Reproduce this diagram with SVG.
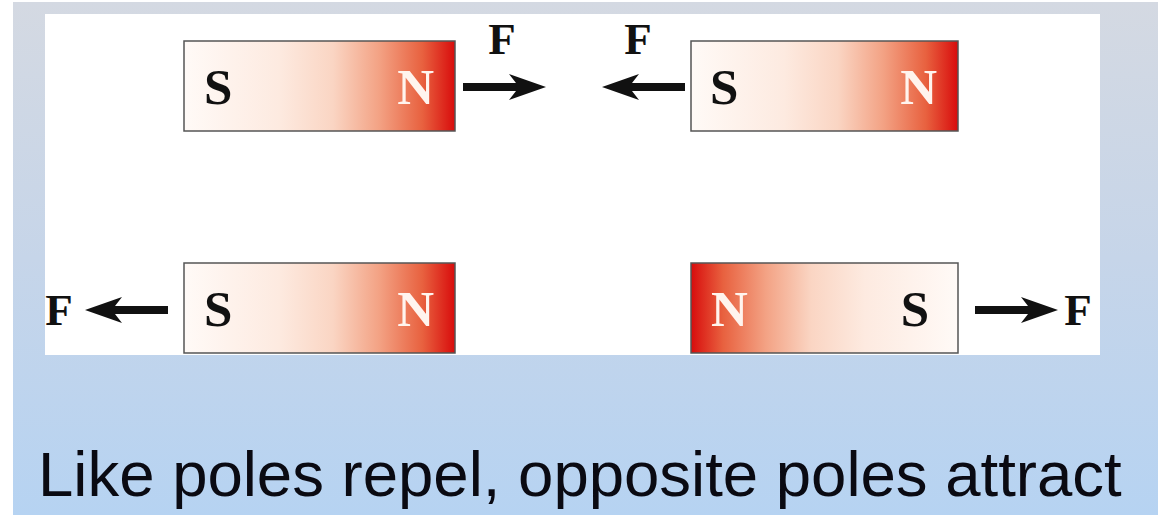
<svg xmlns="http://www.w3.org/2000/svg" xmlns:xlink="http://www.w3.org/1999/xlink" width="1158" height="515" viewBox="0 0 1158 515">
  <defs>
    <linearGradient id="bg" x1="0" y1="0" x2="0" y2="1">
      <stop offset="0" stop-color="#d4d9e2"/>
      <stop offset="0.5" stop-color="#c6d5e9"/>
      <stop offset="1" stop-color="#b6d3f2"/>
    </linearGradient>
    <linearGradient id="magR" x1="0" y1="0" x2="1" y2="0">
      <stop offset="0" stop-color="#fffaf7"/>
      <stop offset="0.35" stop-color="#fdeae0"/>
      <stop offset="0.55" stop-color="#fad5c3"/>
      <stop offset="0.72" stop-color="#f3a284"/>
      <stop offset="0.88" stop-color="#e8613f"/>
      <stop offset="1" stop-color="#d80c0c"/>
    </linearGradient>
    <linearGradient id="magL" x1="1" y1="0" x2="0" y2="0">
      <stop offset="0" stop-color="#fffaf7"/>
      <stop offset="0.35" stop-color="#fdeae0"/>
      <stop offset="0.55" stop-color="#fad5c3"/>
      <stop offset="0.72" stop-color="#f3a284"/>
      <stop offset="0.88" stop-color="#e8613f"/>
      <stop offset="1" stop-color="#d80c0c"/>
    </linearGradient>
    <path id="arrow" d="M0,0 L-37,-13 L-30,-4 L-83,-4 L-83,4 L-30,4 L-37,13 Z"/>
  </defs>
  <style>
    .mag { stroke: #555555; stroke-width: 1.5; }
    .pole { font-family: "Liberation Serif", "Times New Roman", serif; font-weight: bold; font-size: 51px; }
    .s { fill: #111111; }
    .n { fill: #fff4ee; }
    .f { font-family: "Liberation Serif", "Times New Roman", serif; font-weight: bold; font-size: 45px; fill: #111111; }
    .arr { fill: #111111; }
    .cap { font-family: "Liberation Sans", Arial, sans-serif; font-size: 63.5px; fill: #0a0a12; }
  </style>
  <rect x="0" y="0" width="1158" height="515" fill="#ffffff"/>
  <rect x="13" y="2" width="1145" height="513" fill="url(#bg)"/>
  <rect x="45" y="14" width="1055" height="341" fill="#ffffff"/>

  <g id="magnet-top-left">
    <rect class="mag" x="184" y="41" width="271" height="90" fill="url(#magR)"/>
    <text class="pole s" x="204" y="104">S</text>
    <text class="pole n" x="434" y="104" text-anchor="end">N</text>
  </g>
  <g id="magnet-top-right">
    <rect class="mag" x="691" y="41" width="267" height="90" fill="url(#magR)"/>
    <text class="pole s" x="710" y="104">S</text>
    <text class="pole n" x="937" y="104" text-anchor="end">N</text>
  </g>
  <g id="magnet-bottom-left">
    <rect class="mag" x="184" y="263" width="271" height="90" fill="url(#magR)"/>
    <text class="pole s" x="204" y="326">S</text>
    <text class="pole n" x="434" y="326" text-anchor="end">N</text>
  </g>
  <g id="magnet-bottom-right">
    <rect class="mag" x="691" y="263" width="267" height="90" fill="url(#magL)"/>
    <text class="pole n" x="711" y="326">N</text>
    <text class="pole s" x="929" y="326" text-anchor="end">S</text>
  </g>

  <g id="connectors">
    <use xlink:href="#arrow" class="arr" transform="translate(546,87)"/>
    <use xlink:href="#arrow" class="arr" transform="translate(602,87) scale(-1,1)"/>
    <use xlink:href="#arrow" class="arr" transform="translate(85,310) scale(-1,1)"/>
    <use xlink:href="#arrow" class="arr" transform="translate(1058,310)"/>
  </g>

  <g id="labels">
    <text class="f" x="502" y="54" text-anchor="middle">F</text>
    <text class="f" x="638" y="54" text-anchor="middle">F</text>
    <text class="f" x="59" y="325" text-anchor="middle">F</text>
    <text class="f" x="1078" y="325" text-anchor="middle">F</text>
  </g>

  <text class="cap" x="38" y="496">Like poles repel, opposite poles attract</text>
</svg>
